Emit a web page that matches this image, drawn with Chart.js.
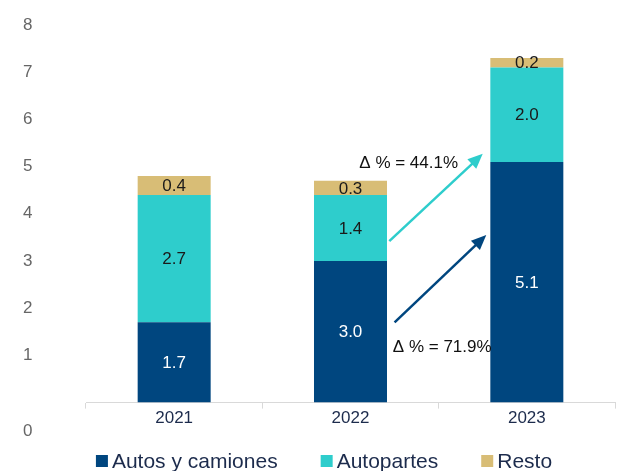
<!DOCTYPE html>
<html>
<head>
<meta charset="utf-8">
<script src="https://cdn.jsdelivr.net/npm/chart.js@4/dist/chart.umd.min.js"></script>
<style>
  html, body { margin: 0; padding: 0; background: #fff; }
  #wrap { width: 621px; height: 471px; }
</style>
</head>
<body>
<div id="wrap"><canvas id="exportChart"></canvas></div>
<script>
const years = ['2021', '2022', '2023'];
const autos = [1.7, 3.0, 5.1];
const autopartes = [2.7, 1.4, 2.0];
const resto = [0.4, 0.3, 0.2];
const yTicks = [0, 1, 2, 3, 4, 5, 6, 7, 8];

// growth arrows, in (category index, value) units
const growthArrows = [
  { from: [1.22, 3.42], to: [1.75, 5.27], color: '#2ecdcc', text: '\u0394 % = 44.1%', at: [1.33, 5.07] },
  { from: [1.25, 1.70], to: [1.77, 3.55], color: '#00467f', text: '\u0394 % = 71.9%', at: [1.52, 1.17] }
];

const FONT = "'Liberation Sans', Arial, sans-serif";
const NAVY = '#1c2b4c';

// value labels inside every segment
const segmentLabels = {
  id: 'segmentLabels',
  afterDatasetsDraw(chart) {
    const ctx = chart.ctx;
    ctx.save();
    ctx.font = '17px ' + FONT;
    ctx.textAlign = 'center';
    ctx.textBaseline = 'middle';
    chart.data.datasets.forEach((ds, i) => {
      chart.getDatasetMeta(i).data.forEach((bar, j) => {
        const p = bar.getProps(['x', 'y', 'base'], true);
        ctx.fillStyle = i === 0 ? '#ffffff' : '#1a1a1a';
        ctx.fillText(ds.data[j].toFixed(1), p.x, (p.y + p.base) / 2 + 1);
      });
    });
    ctx.restore();
  }
};

// arrows with the growth text, the detached "0" tick and the legend row
const extras = {
  id: 'extras',
  afterDraw(chart) {
    const ctx = chart.ctx;
    const xs = chart.scales.x, ys = chart.scales.y;
    ctx.save();
    growthArrows.forEach(a => {
      const x1 = xs.getPixelForValue(a.from[0]), y1 = ys.getPixelForValue(a.from[1]);
      const x2 = xs.getPixelForValue(a.to[0]), y2 = ys.getPixelForValue(a.to[1]);
      const ang = Math.atan2(y2 - y1, x2 - x1);
      const head = 15, half = 6.5;
      ctx.strokeStyle = a.color;
      ctx.fillStyle = a.color;
      ctx.lineWidth = 2.5;
      ctx.beginPath();
      ctx.moveTo(x1, y1);
      ctx.lineTo(x2 - Math.cos(ang) * head * 0.8, y2 - Math.sin(ang) * head * 0.8);
      ctx.stroke();
      ctx.beginPath();
      ctx.moveTo(x2, y2);
      ctx.lineTo(x2 - Math.cos(ang) * head - Math.sin(ang) * half, y2 - Math.sin(ang) * head + Math.cos(ang) * half);
      ctx.lineTo(x2 - Math.cos(ang) * head + Math.sin(ang) * half, y2 - Math.sin(ang) * head - Math.cos(ang) * half);
      ctx.closePath();
      ctx.fill();

      ctx.font = '17px ' + FONT;
      ctx.fillStyle = '#111';
      ctx.textAlign = 'center';
      ctx.textBaseline = 'middle';
      ctx.fillText(a.text, xs.getPixelForValue(a.at[0]), ys.getPixelForValue(a.at[1]));
    });

    ctx.font = '17px ' + FONT;
    ctx.fillStyle = '#666666';
    ctx.textAlign = 'left';
    ctx.textBaseline = 'middle';
    ctx.fillText(String(yTicks[0]), 23, ys.getPixelForValue(yTicks[0]) + 29);

    // legend
    ctx.font = '21px ' + FONT;
    ctx.textBaseline = 'middle';
    const box = 12, gapText = 4, gapItem = 43;
    const items = chart.data.datasets.map(ds => ({ label: ds.label, color: ds.backgroundColor, w: ctx.measureText(ds.label).width }));
    const total = items.reduce((s, it) => s + box + gapText + it.w, 0) + gapItem * (items.length - 1);
    let x = 324 - total / 2;
    const y = 461;
    items.forEach(it => {
      ctx.fillStyle = it.color;
      ctx.fillRect(x, y - box / 2, box, box);
      ctx.fillStyle = NAVY;
      ctx.fillText(it.label, x + box + gapText, y + 1);
      x += box + gapText + it.w + gapItem;
    });
    ctx.restore();
  }
};

new Chart(document.getElementById('exportChart'), {
  type: 'bar',
  data: {
    labels: years,
    datasets: [
      { label: 'Autos y camiones', data: autos, backgroundColor: '#00467f' },
      { label: 'Autopartes', data: autopartes, backgroundColor: '#2ecdcc' },
      { label: 'Resto', data: resto, backgroundColor: '#d8bd76' }
    ]
  },
  options: {
    responsive: true,
    maintainAspectRatio: false,
    animation: false,
    layout: { padding: { left: 23, right: 6, top: 25, bottom: 42 } },
    datasets: { bar: { categoryPercentage: 1, barPercentage: 0.414, borderWidth: 0 } },
    scales: {
      x: {
        stacked: true,
        grid: { display: true, drawOnChartArea: false, offset: true, tickLength: 6, color: '#d9d9d9' },
        border: { display: true, color: '#d9d9d9' },
        ticks: { color: NAVY, font: { family: FONT, size: 17 }, padding: 0 }
      },
      y: {
        stacked: true,
        min: yTicks[0],
        max: yTicks[yTicks.length - 1],
        afterFit: s => { s.width = 63; },
        grid: { display: false },
        border: { display: false },
        ticks: {
          stepSize: 1,
          padding: 4,
          crossAlign: 'far',
          color: '#666666',
          font: { family: FONT, size: 17 },
          callback: v => (v === 0 ? '' : v)
        }
      }
    },
    plugins: {
      legend: { display: false },
      tooltip: { enabled: false }
    }
  },
  plugins: [segmentLabels, extras]
});
</script>
</body>
</html>
